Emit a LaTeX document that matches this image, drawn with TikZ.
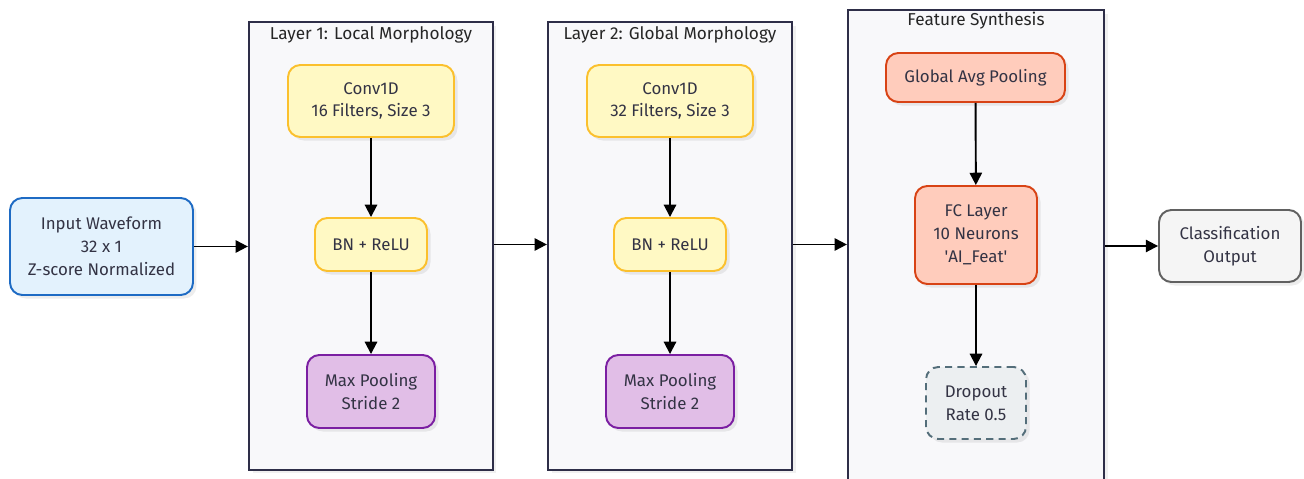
\documentclass[tikz,border=0pt]{standalone}
\usepackage{fontspec}
\setmainfont{Fira Sans}
\usepackage{tikz}
\usetikzlibrary{arrows.meta, positioning, shadows}
\definecolor{inblue}{HTML}{1E6BC4}
\definecolor{inbluefill}{HTML}{E3F2FD}
\definecolor{convyellow}{HTML}{FBC02D}
\definecolor{convfill}{HTML}{FFF9C4}
\definecolor{poolpurple}{HTML}{7B1FA2}
\definecolor{poolfill}{HTML}{E1BEE7}
\definecolor{fcorange}{HTML}{D84315}
\definecolor{fcfill}{HTML}{FFCCBC}
\definecolor{dropslate}{HTML}{546E7A}
\definecolor{dropfill}{HTML}{ECEFF1}
\definecolor{outgray}{HTML}{616161}
\definecolor{outfill}{HTML}{F5F5F5}
\definecolor{framedark}{HTML}{2E2E48}
\definecolor{framefill}{HTML}{F8F8FA}
\definecolor{textdark}{HTML}{333344}
\tikzset{
  % rounded blocks inside and outside the stages
  block/.style 2 args={
    draw=#1, fill=#2, rounded corners=7pt,
    line width=1.1pt, align=center, inner sep=0pt,
    font=\fontsize{9.6}{13}\selectfont, text=textdark,
    drop shadow={shadow xshift=2pt, shadow yshift=-2pt,
                 fill=black, opacity=0.07},
  },
  % stage frames
  stage/.style={
    draw=framedark, fill=framefill, line width=1.3pt,
    inner sep=0pt,
    drop shadow={shadow xshift=2pt, shadow yshift=-2pt,
                 fill=black, opacity=0.06},
  },
  stagelabel/.style={font=\fontsize{9.8}{11}\selectfont, text=black!85},
  arr/.style={-{Triangle[length=7pt, width=7pt]}, line width=1.1pt, black},
}
\begin{document}
\begin{tikzpicture}[x=0.02cm, y=-0.02cm]
  \useasboundingbox[fill=white] (0,0) rectangle (1304,479);

  % input
  \node[block={inblue}{inbluefill}, minimum width=3.66cm, minimum height=1.94cm]
    (input) at (101.5,246.5) {Input Waveform\\32 x 1\\Z-score Normalized};

  % stage 1
  \node[stage, minimum width=4.88cm, minimum height=8.96cm] (layer1) at (371,246) {};
  \node[stagelabel] (title1) at (371,35) {Layer 1: Local Morphology};
  \node[block={convyellow}{convfill}, minimum width=3.32cm, minimum height=1.44cm]
    (conv1) at (371,101) {Conv1D\\16 Filters, Size 3};
  \node[block={convyellow}{convfill}, minimum width=2.24cm, minimum height=1.06cm]
    (bn1) at (371,244.5) {BN + ReLU};
  \node[block={poolpurple}{poolfill}, minimum width=2.56cm, minimum height=1.46cm]
    (pool1) at (371,391.5) {Max Pooling\\Stride 2};
  \draw[arr] (conv1) -- (bn1);
  \draw[arr] (bn1) -- (pool1);

  % stage 2
  \node[stage, minimum width=4.88cm, minimum height=8.96cm] (layer2) at (670,246) {};
  \node[stagelabel] (title2) at (670,35) {Layer 2: Global Morphology};
  \node[block={convyellow}{convfill}, minimum width=3.32cm, minimum height=1.44cm]
    (conv2) at (670,101) {Conv1D\\32 Filters, Size 3};
  \node[block={convyellow}{convfill}, minimum width=2.24cm, minimum height=1.06cm]
    (bn2) at (670,244.5) {BN + ReLU};
  \node[block={poolpurple}{poolfill}, minimum width=2.56cm, minimum height=1.46cm]
    (pool2) at (670,391.5) {Max Pooling\\Stride 2};
  \draw[arr] (conv2) -- (bn2);
  \draw[arr] (bn2) -- (pool2);

  % stage 3
  \node[stage, minimum width=5.12cm, minimum height=9.7cm] (layer3) at (976,252.5) {};
  \node[stagelabel] (title3) at (976,21) {Feature Synthesis};
  \node[block={fcorange}{fcfill}, minimum width=3.58cm, minimum height=0.98cm]
    (gap) at (975.5,77.5) {Global Avg Pooling};
  \node[block={fcorange}{fcfill}, minimum width=2.44cm, minimum height=1.96cm]
    (fc) at (976,235) {FC Layer\\10 Neurons\\\textquotesingle AI\_Feat\textquotesingle};
  \node[block={dropslate}{dropfill}, dashed, dash pattern=on 4pt off 3pt,
        minimum width=2.0cm, minimum height=1.44cm]
    (drop) at (976,403) {Dropout\\Rate 0.5};
  \draw[arr] (gap) -- (fc);
  \draw[arr] (fc) -- (drop);

  % output
  \node[block={outgray}{outfill}, minimum width=2.84cm, minimum height=1.44cm]
    (out) at (1230,246) {Classification\\Output};

  \draw[arr] (input.east) -- (input.east -| layer1.west);
  \draw[arr] (layer1.east |- bn1) -- (layer2.west |- bn2);
  \draw[arr] (layer2.east |- bn2) -- (layer3.west |- bn2);
  \draw[arr] (layer3.east |- out) -- (out.west);
\end{tikzpicture}
\end{document}
